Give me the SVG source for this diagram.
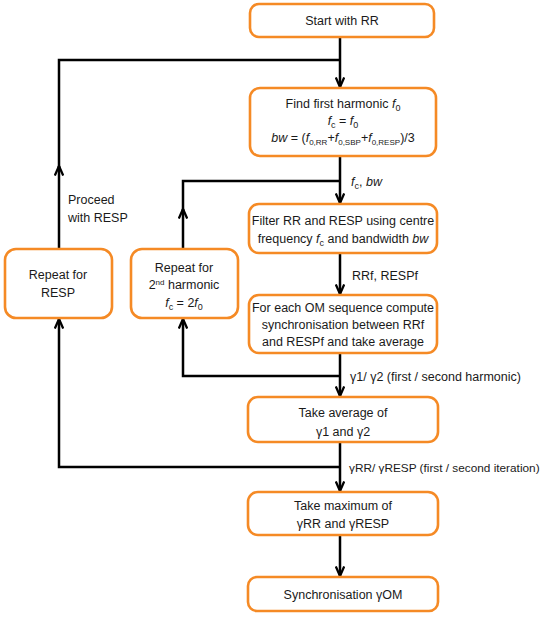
<svg xmlns="http://www.w3.org/2000/svg" width="547" height="617" viewBox="0 0 547 617">
<defs>
<style>
.box{fill:#fff;stroke:#F58A25;stroke-width:2.6}
.t{font-family:"Liberation Sans",Arial,sans-serif;font-size:12.5px;fill:#1a1a1a;text-anchor:middle}
.l{font-family:"Liberation Sans",Arial,sans-serif;font-size:12.5px;fill:#1a1a1a}
.i{font-style:italic}
.c{fill:none;stroke:#000;stroke-width:2.5}
</style>
<marker id="arr" viewBox="0 0 12 10" refX="10.5" refY="5" markerWidth="12" markerHeight="10" orient="auto" markerUnits="userSpaceOnUse">
<path d="M1,0.8 L10.5,5 L1,9.2" fill="none" stroke="#000" stroke-width="2.3"/>
</marker>
</defs>
<rect width="547" height="617" fill="#fff"/>
<g id="connectors">
<path class="c" d="M340,37 V87" marker-end="url(#arr)"/>
<path class="c" d="M340,156 V203" marker-end="url(#arr)"/>
<path class="c" d="M340,253 V294" marker-end="url(#arr)"/>
<path class="c" d="M340,353 V396" marker-end="url(#arr)"/>
<path class="c" d="M340,442 V491" marker-end="url(#arr)"/>
<path class="c" d="M340,535 V576" marker-end="url(#arr)"/>
<path class="c" d="M340,467 H59 V319" marker-end="url(#arr)"/>
<path class="c" d="M59,249 V166" marker-end="url(#arr)"/>
<path class="c" d="M59,168 V60 H340"/>
<path class="c" d="M340,376 H183 V319" marker-end="url(#arr)"/>
<path class="c" d="M183,249 V209" marker-end="url(#arr)"/>
<path class="c" d="M183,211 V181 H340"/>
<text class="l" x="351" y="186"><tspan class="i">f</tspan><tspan font-size="9" dy="3">c</tspan><tspan dy="-3">, </tspan><tspan class="i">bw</tspan></text>
<text class="l" x="352" y="280">RRf, RESPf</text>
<text class="l" x="350" y="381">γ1/ γ2 (first / second harmonic)</text>
<text class="l" x="349" y="472" style="font-size:11.8px">γRR/ γRESP (first / second iteration)</text>
<text class="l" x="68" y="204">Proceed</text>
<text class="l" x="68" y="222">with RESP</text>
</g>
<g id="start">
<rect class="box" x="250" y="4" width="184" height="33" rx="9"/>
<text class="t" x="342" y="25">Start with RR</text>
</g>
<g id="find">
<rect class="box" x="250" y="88" width="186" height="68" rx="10"/>
<text class="t" x="343" y="108">Find first harmonic <tspan class="i">f</tspan><tspan font-size="9" dy="3">0</tspan></text>
<text class="t" x="343" y="125"><tspan class="i">f</tspan><tspan font-size="9" dy="3">c</tspan><tspan dy="-3"> = </tspan><tspan class="i">f</tspan><tspan font-size="9" dy="3">0</tspan></text>
<text class="t" x="343" y="142"><tspan class="i">bw</tspan> = (<tspan class="i">f</tspan><tspan font-size="8" dy="3">0,RR</tspan><tspan dy="-3">+</tspan><tspan class="i">f</tspan><tspan font-size="8" dy="3">0,SBP</tspan><tspan dy="-3">+</tspan><tspan class="i">f</tspan><tspan font-size="8" dy="3">0,RESP</tspan><tspan dy="-3">)/3</tspan></text>
</g>
<g id="filter">
<rect class="box" x="249" y="204" width="188" height="49" rx="10"/>
<text class="t" x="343" y="225">Filter RR and RESP using centre</text>
<text class="t" x="343" y="243">frequency <tspan class="i">f</tspan><tspan font-size="9" dy="3">c</tspan><tspan dy="-3"> and bandwidth </tspan><tspan class="i">bw</tspan></text>
</g>
<g id="foreach">
<rect class="box" x="249" y="295" width="188" height="58" rx="10"/>
<text class="t" x="343" y="312">For each OM sequence compute</text>
<text class="t" x="343" y="329">synchronisation between RRf</text>
<text class="t" x="343" y="346">and RESPf and take average</text>
</g>
<g id="average">
<rect class="box" x="248" y="397" width="190" height="45" rx="10"/>
<text class="t" x="343" y="417">Take average of</text>
<text class="t" x="343" y="436">γ1 and γ2</text>
</g>
<g id="maximum">
<rect class="box" x="248" y="492" width="190" height="43" rx="10"/>
<text class="t" x="343" y="510">Take maximum of</text>
<text class="t" x="343" y="528">γRR and γRESP</text>
</g>
<g id="sync">
<rect class="box" x="248" y="577" width="190" height="34" rx="9"/>
<text class="t" x="343" y="599">Synchronisation γOM</text>
</g>
<g id="repeatResp">
<rect class="box" x="5" y="249" width="107" height="69" rx="11"/>
<text class="t" x="58" y="279">Repeat for</text>
<text class="t" x="58" y="297">RESP</text>
</g>
<g id="repeat2">
<rect class="box" x="131" y="249" width="107" height="69" rx="11"/>
<text class="t" x="184" y="272">Repeat for</text>
<text class="t" x="184" y="289">2<tspan font-size="8" dy="-4">nd</tspan><tspan dy="4"> harmonic</tspan></text>
<text class="t" x="184" y="307"><tspan class="i">f</tspan><tspan font-size="9" dy="3">c</tspan><tspan dy="-3"> = 2</tspan><tspan class="i">f</tspan><tspan font-size="9" dy="3">0</tspan></text>
</g>
</svg>
